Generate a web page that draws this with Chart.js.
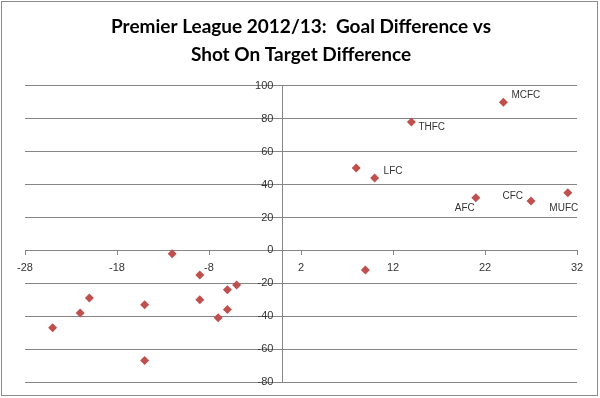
<!DOCTYPE html>
<html lang="en">
<head>
<meta charset="UTF-8">
<title>Goal Difference vs Shot On Target Difference</title>
<script src="https://cdn.jsdelivr.net/npm/chart.js"></script>
<style>
  html, body { margin: 0; padding: 0; background: #fff; }
  #wrap { width: 600px; height: 398px; }
</style>
</head>
<body>
<div id="wrap"><canvas id="chart" width="600" height="398"></canvas></div>
<script>
// Data
const teams    = ['MCFC', 'THFC', '', 'LFC', 'AFC', 'CFC', 'MUFC', '', '', '', '', '', '', '', '', '', '', '', '', ''];
const sotDiff  = [24, 14, 8, 10, 21, 27, 31, 9, -25, -22, -21, -15, -15, -12, -9, -9, -7, -6, -6, -5];
const goalDiff = [90, 78, 50, 44, 32, 30, 35, -12, -47, -38, -29, -33, -67, -2, -15, -30, -41, -24, -36, -21];
const xTicks = [-28, -18, -8, 2, 12, 22, 32];

const points = sotDiff.map((x, i) => ({x: x, y: goalDiff[i], team: teams[i]}));

// where each team label sits relative to its marker
const labelOffset = {
    MCFC: {dx: 8, dy: -7, align: 'left'},
    THFC: {dx: 7, dy: 5, align: 'left'},
    LFC:  {dx: 9, dy: -7, align: 'left'},
    AFC:  {dx: -1, dy: 11, align: 'right'},
    CFC:  {dx: -8, dy: -5, align: 'right'},
    MUFC: {dx: -4, dy: 15, align: 'center'}
};

const extras = {
    id: 'extras',
    afterDatasetsDraw(chart) {
        const ctx = chart.ctx;
        const xs = chart.scales.x, ys = chart.scales.y;
        ctx.save();
        ctx.font = '10px "Liberation Sans", Arial, sans-serif';
        ctx.fillStyle = '#333';
        ctx.textBaseline = 'middle';
        points.forEach(p => {
            if (!p.team) return;
            const o = labelOffset[p.team];
            ctx.textAlign = o.align;
            ctx.fillText(p.team, xs.getPixelForValue(p.x) + o.dx, ys.getPixelForValue(p.y) + o.dy);
        });
        ctx.restore();
    },
    afterDraw(chart) {
        const ctx = chart.ctx;
        ctx.save();
        ctx.strokeStyle = '#8c8c8c';
        ctx.lineWidth = 1;
        ctx.strokeRect(1.5, 1.5, 596, 394);
        ctx.restore();
    }
};

new Chart(document.getElementById('chart'), {
    type: 'scatter',
    data: {
        datasets: [{
            data: points,
            pointStyle: 'rectRot',
            pointRadius: 4.5,
            pointHoverRadius: 4.5,
            backgroundColor: '#c0504d',
            borderColor: '#c0504d',
            borderWidth: 0
        }]
    },
    options: {
        responsive: false,
        animation: false,
        events: [],
        layout: {padding: {left: 25, right: 23, top: 0, bottom: 16}},
        plugins: {
            legend: {display: false},
            tooltip: {enabled: false},
            title: {
                display: true,
                text: ['Premier League 2012/13:  Goal Difference vs', 'Shot On Target Difference'],
                color: '#000',
                font: {family: 'Lato, "Open Sans", sans-serif', size: 19, weight: 'bold', lineHeight: 1.47},
                padding: {top: 13, bottom: 17}
            }
        },
        scales: {
            x: {
                type: 'linear',
                position: {y: 0},
                min: -28,
                max: 32,
                afterBuildTicks: s => { s.ticks = xTicks.map(v => ({value: v})); },
                grid: {display: true, drawOnChartArea: false, drawTicks: true, tickLength: 5, color: '#868686'},
                border: {display: false},
                ticks: {color: '#333', padding: 6, maxRotation: 0, font: {family: '"Liberation Sans", Arial, sans-serif', size: 11}}
            },
            y: {
                type: 'linear',
                position: {x: 0},
                min: -80,
                max: 100,
                // labels sit right-aligned on the axis line, so pad with trailing spaces
                ticks: {stepSize: 20, color: '#333', callback: v => v + '   ', font: {family: '"Liberation Sans", Arial, sans-serif', size: 11}},
                grid: {color: '#868686', drawTicks: false},
                border: {display: true, color: '#868686'}
            }
        }
    },
    plugins: [extras]
});
</script>
</body>
</html>
